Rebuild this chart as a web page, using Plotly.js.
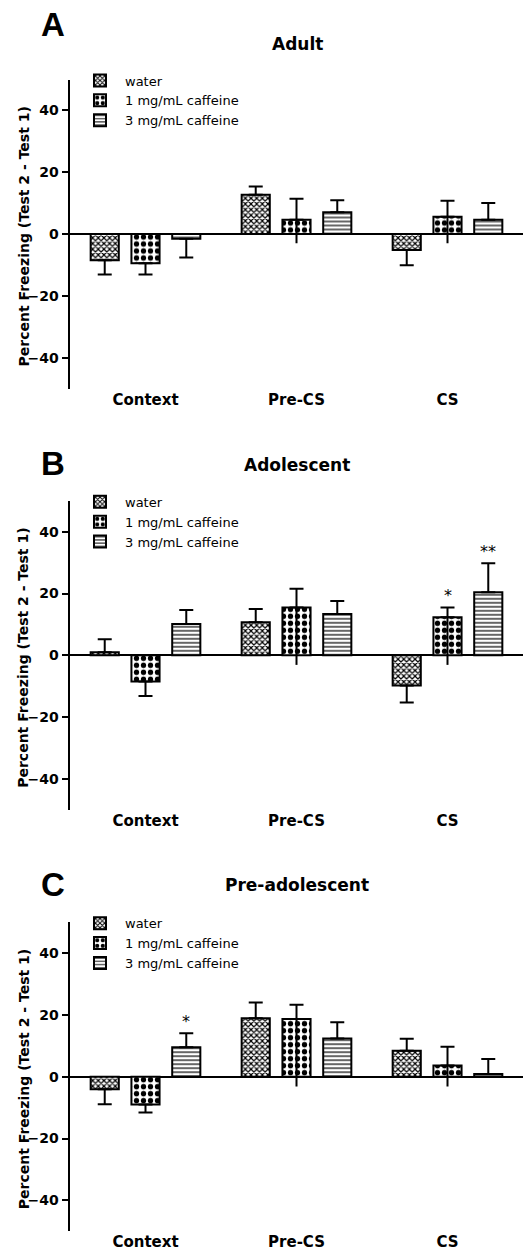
<!DOCTYPE html>
<html>
<head>
<meta charset="utf-8">
<script src="https://cdn.plot.ly/plotly-3.0.1.min.js"></script>
<style>
html,body{margin:0;padding:0;background:#fff;overflow:hidden;}
#chart{width:524px;height:1252px;}
</style>
</head>
<body>
<div id="chart"></div>
<script>
// ---------- data ----------
const categories = ['Context', 'Pre-CS', 'CS'];
const seriesNames = ['water', '1 mg/mL caffeine', '3 mg/mL caffeine'];
const panelLetters = ['A', 'B', 'C'];
const panelTitles = ['Adult', 'Adolescent', 'Pre-adolescent'];
const yTitle = 'Percent Freezing (Test 2 - Test 1)';
const yTickVals = [-40, -20, 0, 20, 40];

// Adult
const adultWater = [-8.5, 12.7, -5.2];
const adultWaterErr = [4.6, 2.7, 4.9];
const adult1mg = [-9.5, 4.6, 5.6];
const adult1mgErr = [3.6, 6.8, 5.2];
const adult3mg = [-1.5, 7.0, 4.6];
const adult3mgErr = [6.1, 3.9, 5.4];
const adult1mgStemBottom = [null, -3.0, -3.0];
const adultSig = [['', '', ''], ['', '', ''], ['', '', '']];

// Adolescent
const adolWater = [1.0, 10.7, -9.8];
const adolWaterErr = [4.2, 4.3, 5.5];
const adol1mg = [-8.5, 15.5, 12.3];
const adol1mgErr = [4.7, 6.0, 3.2];
const adol3mg = [10.1, 13.4, 20.4];
const adol3mgErr = [4.6, 4.2, 9.4];
const adol1mgStemBottom = [null, -3.1, -3.1];
const adolSig = [['', '', ''], ['', '', '*'], ['', '', '**']];

// Pre-adolescent
const preWater = [-4.1, 18.9, 8.4];
const preWaterErr = [4.8, 5.1, 3.9];
const pre1mg = [-9.0, 18.7, 3.6];
const pre1mgErr = [2.6, 4.6, 6.1];
const pre3mg = [9.5, 12.4, 0.9];
const pre3mgErr = [4.6, 5.2, 4.8];
const pre1mgStemBottom = [null, -3.2, -3.2];
const preSig = [['', '', ''], ['', '', ''], ['*', '', '']];

// ---------- styling ----------
const W = 524, H = 1252;
const FONT = 'DejaVu Sans';
const xDom = [70 / W, 523 / W];
const zeroPx = [234, 655.3, 1076.7];
const halfPx = 154.5;
const letterPx = [24.5, 463, 884];
const titlePx = [44.5, 465, 885];
const bargap = 0.19, bargroupgap = 0.31;
const patterns = [
  {shape: 'x', size: 4, solidity: 0.5},
  {shape: '.', size: 7, solidity: 0.45},
  {shape: '-', size: 4, solidity: 0.3}
];

const panelVals = [[adultWater, adult1mg, adult3mg], [adolWater, adol1mg, adol3mg], [preWater, pre1mg, pre3mg]];
const panelErrs = [[adultWaterErr, adult1mgErr, adult3mgErr], [adolWaterErr, adol1mgErr, adol3mgErr], [preWaterErr, pre1mgErr, pre3mgErr]];
const panelStem = [adult1mgStemBottom, adol1mgStemBottom, pre1mgStemBottom];
const panelSig = [adultSig, adolSig, preSig];

const traces = [];
const annotations = [];
const layout = {
  width: W, height: H, autosize: false,
  margin: {l: 0, r: 0, t: 0, b: 0},
  paper_bgcolor: '#fff', plot_bgcolor: 'rgba(0,0,0,0)',
  barmode: 'group', bargap: bargap, bargroupgap: bargroupgap,
  font: {family: FONT, color: '#000'},
  showlegend: true
};

for (let p = 0; p < 3; p++) {
  const sfx = p === 0 ? '' : String(p + 1);
  const xa = 'x' + sfx, ya = 'y' + sfx;
  const legendName = 'legend' + sfx;
  const top = zeroPx[p] - halfPx, bot = zeroPx[p] + halfPx;
  layout['xaxis' + sfx] = {
    domain: xDom, anchor: ya, type: 'category', range: [-0.5, 2.5],
    showline: false, ticks: '', showgrid: false, zeroline: false,
    tickfont: {family: FONT, size: 15, weight: 'bold', color: '#000'},
    fixedrange: true
  };
  layout['yaxis' + sfx] = {
    domain: [1 - bot / H, 1 - top / H], anchor: xa, range: [-50, 50],
    tickvals: yTickVals, ticks: 'outside', ticklen: 6, tickwidth: 2, tickcolor: '#000',
    showline: true, linewidth: 2.5, linecolor: '#000',
    zeroline: true, zerolinewidth: 2, zerolinecolor: '#000', showgrid: false,
    tickfont: {family: FONT, size: 14, weight: 'bold', color: '#000'},
    fixedrange: true
  };
  layout[legendName] = {
    x: 75 / W, xanchor: 'left', y: 1 - (top - 14) / H, yanchor: 'top',
    bgcolor: 'rgba(0,0,0,0)', borderwidth: 0,
    font: {family: FONT, size: 13, color: '#000'},
    itemwidth: 40, traceorder: 'normal', tracegroupgap: 0
  };

  for (let s = 0; s < 3; s++) {
    const vals = panelVals[p][s], errs = panelErrs[p][s];
    traces.push({
      type: 'bar', name: seriesNames[s], x: categories, y: vals,
      xaxis: xa, yaxis: ya, legend: legendName, offsetgroup: 'g' + s,
      marker: {color: '#fff', line: {color: '#000', width: 2},
        pattern: Object.assign({fgcolor: '#000', bgcolor: '#fff', fgopacity: 1, fillmode: 'replace'}, patterns[s])},
      error_y: {type: 'data', symmetric: false,
        array: vals.map((v, i) => v >= 0 ? errs[i] : 0),
        arrayminus: vals.map((v, i) => v < 0 ? errs[i] : 0),
        color: '#000', thickness: 2, width: 7},
      hoverinfo: 'skip'
    });
    if (s === 1) {
      const stem = panelStem[p];
      traces.push({
        type: 'bar', name: 'stem', showlegend: false, x: categories,
        y: vals.map((v, i) => stem[i] === null ? null : v),
        xaxis: xa, yaxis: ya, legend: legendName, offsetgroup: 'g1',
        marker: {color: 'rgba(0,0,0,0)', line: {width: 0}},
        error_y: {type: 'data', symmetric: false,
          array: vals.map(() => 0),
          arrayminus: vals.map((v, i) => stem[i] === null ? 0 : v - stem[i]),
          color: '#000', thickness: 2, width: 0},
        hoverinfo: 'skip'
      });
    }
    // significance stars
    for (let i = 0; i < 3; i++) {
      const lab = panelSig[p][s][i];
      if (lab) {
        annotations.push({
          xref: xa, yref: ya, x: i + (s - 1) * (1 - bargap) / 3, y: vals[i] + errs[i],
          text: lab, showarrow: false, yanchor: 'bottom', xanchor: 'center', yshift: 0,
          font: {family: FONT, size: 16, color: '#000'}
        });
      }
    }
  }
  // y-axis title
  annotations.push({
    xref: 'paper', yref: 'paper', x: 23.5 / W, y: 1 - (zeroPx[p] + 3) / H,
    text: yTitle, textangle: -90, showarrow: false, xanchor: 'center', yanchor: 'middle',
    font: {family: FONT, size: 14, weight: 'bold', color: '#000'}
  });
  annotations.push({
    xref: 'paper', yref: 'paper', x: 53 / W, y: 1 - letterPx[p] / H,
    text: panelLetters[p], showarrow: false, xanchor: 'center', yanchor: 'middle',
    font: {family: 'Liberation Sans', size: 33, weight: 'bold', color: '#000'}
  });
  annotations.push({
    xref: 'paper', yref: 'paper', x: 297 / W, y: 1 - titlePx[p] / H,
    text: panelTitles[p], showarrow: false, xanchor: 'center', yanchor: 'middle',
    font: {family: FONT, size: 17, weight: 'bold', color: '#000'}
  });
}
layout.annotations = annotations;

Plotly.newPlot('chart', traces, layout, {staticPlot: true, displayModeBar: false});
</script>
</body>
</html>
